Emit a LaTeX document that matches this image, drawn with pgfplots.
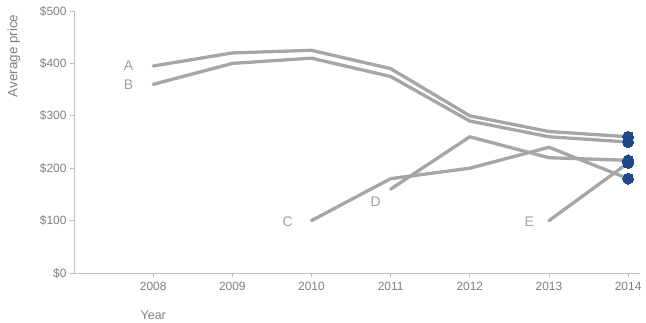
\documentclass[border=0pt]{standalone}
\usepackage{pgfplots}
\pgfplotsset{compat=1.18}
\usepackage{fontspec}
\setmainfont{Liberation Sans}
\definecolor{linegray}{HTML}{A6A6A6}
\definecolor{labgray}{HTML}{A0A0A0}
\definecolor{tickgray}{HTML}{7F7F7F}
\definecolor{axgray}{HTML}{BFBFBF}
\definecolor{dotblue}{HTML}{1F4A87}
\begin{document}
\begin{tikzpicture}[x=1bp,y=1bp]
\begin{axis}[
  scale only axis,
  width=566bp, height=262bp,
  xmin=2007, xmax=2014.15,
  ymin=0, ymax=500,
  axis x line*=bottom, axis y line*=left,
  axis line style={axgray, line width=0.8bp},
  tick style={axgray, line width=0.8bp},
  tick align=outside, major tick length=4bp,
  xtick={2008,2009,2010,2011,2012,2013,2014},
  xticklabels={2008,2009,2010,2011,2012,2013,2014},
  ytick={0,100,200,300,400,500},
  yticklabels={\$0,\$100,\$200,\$300,\$400,\$500},
  ticklabel style={font=\fontsize{12}{14}\selectfont, text=tickgray},
  xticklabel style={yshift=-2bp},
  ylabel={Average price},
  ylabel style={at={(axis description cs:-0.106,1.0)}, anchor=east, rotate=0, font=\fontsize{13.5}{15}\selectfont, text=tickgray},
  xlabel={Year},
  xlabel style={at={(axis description cs:0.14,-0.13)}, anchor=north, font=\fontsize{12.5}{14}\selectfont, text=tickgray},
  clip=false,
  every axis plot/.append style={line width=3.3bp, color=linegray, line join=round, line cap=round},
]
\coordinate (bl) at (rel axis cs:0,0);
\addplot[mark=none] coordinates {(2008,395)(2009,420)(2010,425)(2011,390)(2012,300)(2013,270)(2014,260)};
\addplot[mark=none] coordinates {(2008,360)(2009,400)(2010,410)(2011,375)(2012,290)(2013,260)(2014,250)};
\addplot[mark=none] coordinates {(2010,100)(2011,180)(2012,200)(2013,240)(2014,180)};
\addplot[mark=none] coordinates {(2011,160)(2012,260)(2013,220)(2014,215)};
\addplot[mark=none] coordinates {(2013,100)(2014,210)};
\addplot[only marks, mark=*, mark size=5.5bp, color=dotblue, mark options={fill=dotblue, draw=dotblue, line width=0bp}] coordinates {(2014,260)(2014,250)(2014,180)(2014,215)(2014,210)};
\begin{scope}[every node/.style={font=\fontsize{14}{16}\selectfont, text=labgray}]
\node at (axis cs:2007.69,395) {A};
\node at (axis cs:2007.69,360) {B};
\node at (axis cs:2009.70,98) {C};
\node at (axis cs:2010.81,137) {D};
\node at (axis cs:2012.75,98) {E};
\end{scope}
\end{axis}
\path ([xshift=-74bp,yshift=-48bp]bl) rectangle ([xshift=572bp,yshift=273bp]bl);
\end{tikzpicture}
\end{document}
